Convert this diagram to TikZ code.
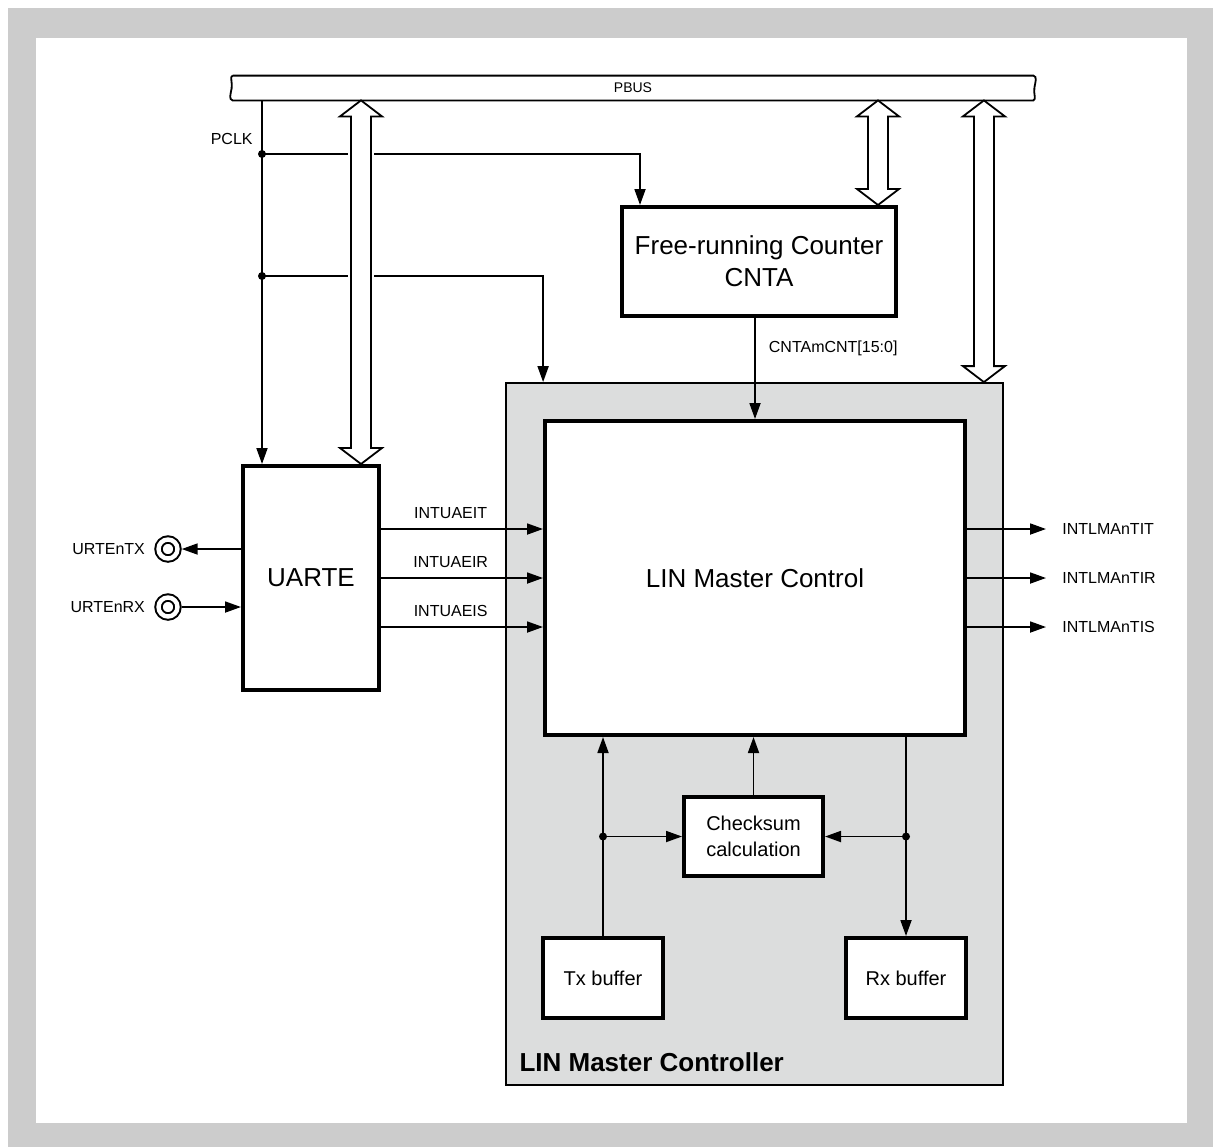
\documentclass[tikz,border=0pt]{standalone}
\usepackage{fontspec}
\setmainfont{Liberation Sans}
\usetikzlibrary{arrows.meta, positioning, calc}
\definecolor{framegray}{RGB}{204,204,204}
\definecolor{ctrlgray}{RGB}{220,221,221}
\newcommand{\sigfont}{\fontsize{8}{9.6}\selectfont}
\newcommand{\busfont}{\fontsize{7}{8.4}\selectfont}
\newcommand{\bigfont}{\fontsize{13}{16}\selectfont}
\newcommand{\midfont}{\fontsize{10}{13}\selectfont}
\newcommand{\titlefont}{\fontsize{13}{15}\selectfont\bfseries}
\tikzstyle{block} = [rectangle, draw=black, line width=2pt, fill=white, align=center, inner sep=0pt, font=\bigfont]
\tikzstyle{smallblock} = [block, font=\midfont]
\tikzstyle{ctrl} = [rectangle, draw=black, line width=0.9pt, fill=ctrlgray]
\tikzstyle{sig} = [inner sep=0pt, font=\sigfont]
\tikzstyle{pin} = [circle, draw=black, double, line width=1pt, double distance=2.2pt, minimum size=9.5pt, inner sep=0pt, outer sep=2.1pt]
\tikzstyle{sigarrow} = [line width=0.9pt, ->, >={Triangle[length=8pt,width=5.5pt]}]
\tikzstyle{busline} = [line width=0.9pt]
\tikzstyle{hollow} = [line width=0.9pt, fill=white]
% hollow double arrow between bus and a block
\newcommand{\busarrow}[2]{%
  \path (#1) coordinate (ba-t) (#2) coordinate (ba-b);
  \fill[white] ($(ba-t)+(-13,20)$) rectangle ($(ba-b)+(13,-20)$);
  \draw[hollow] (ba-t) -- ++(21,16) -- ++(-11,0) -- ($(ba-b)+(10,-16)$) -- ++(11,0) -- (ba-b)
    -- ++(-21,-16) -- ++(11,0) -- ($(ba-t)+(-10,16)$) -- ++(-11,0) -- cycle;
}
\begin{document}
\begin{tikzpicture}[x=0.5pt, y=-0.5pt]

            \useasboundingbox (0,0) rectangle (1213,1147);
            \fill[framegray] (8,8) rectangle (1213,1147);
            \fill[white] (36,38) rectangle (1187,1123);

            % Place nodes
            \node (lmc) [ctrl, minimum width=248.5pt, minimum height=351pt] at (754.5,734) {};
            \node (lmclbl) [anchor=base west, inner sep=0pt, font=\titlefont] at ($(lmc.south west)+(14,-14)$) {LIN Master Controller};
            \node (pbus) [inner sep=0pt, minimum width=400pt, minimum height=12pt, font=\busfont] at (633,88) {PBUS};
            \node (cnta) [block, minimum width=137pt, minimum height=54.5pt] at (759,261.5) {Free-running Counter\\CNTA};
            \node (lmcc) [block, minimum width=210pt, minimum height=157pt] at (755,578) {LIN Master Control};
            \node (uarte) [block, minimum width=68pt, minimum height=112pt] at (311,578) {UARTE};
            \node (chk) [smallblock, minimum width=69.5pt, minimum height=39.5pt] at (753.5,836.5) {Checksum\\calculation};
            \node (txbuf) [smallblock, minimum width=60pt, minimum height=40pt] at (603,978) {Tx buffer};
            \node (rxbuf) [smallblock, minimum width=60pt, minimum height=40pt, right=89.5pt of txbuf] {Rx buffer};
            \node (txpin) [pin] at (168,549) {};
            \node (rxpin) [pin] at (168,607) {};
            \node (txlbl) [sig, left=4.5pt of txpin] {URTEnTX};
            \node (rxlbl) [sig, left=4.5pt of rxpin] {URTEnRX};
            \coordinate (clk1) at (262,154);
            \coordinate (clk2) at (262,276);
            \node (pclk) [sig, anchor=east] at ($(clk1)+(-9,-15)$) {PCLK};

            % Bus outline
            \draw [busline] (pbus.north west) -- (pbus.north east)
                .. controls +(4,1) and +(1,-6) .. ++(1,12)
                .. controls +(-1,6) and +(3,-1) .. (pbus.south east)
                -- (pbus.south west)
                .. controls +(-4,-1) and +(-1,6) .. ++(-1,-12)
                .. controls +(1,-6) and +(-3,1) .. (pbus.north west);

            % Draw edges
            \draw [sigarrow] (pbus.south -| clk1) -- (uarte.north -| clk1);
            \draw [sigarrow] (clk1) -| ($(cnta.north west)+(20,0)$);
            \draw [sigarrow] (clk2) -| ($(lmc.north west)+(38,0)$);
            \fill (clk1) circle (2pt);
            \fill (clk2) circle (2pt);
            \draw [sigarrow] (cnta.south -| lmcc.north) -- node[sig, right=6.5pt, pos=0.3] {CNTAmCNT[15:0]} (lmcc.north);
            \draw [sigarrow] (uarte.west |- txpin) -- (txpin);
            \draw [sigarrow] (rxpin) -- (uarte.west |- rxpin);
            \foreach \dy/\txt in {-49/INTUAEIT, 0/INTUAEIR, 49/INTUAEIS} {
                \draw [sigarrow] ($(uarte.east)+(0,\dy)$) -- node[sig, above=4.5pt, pos=0.43] {\txt} ($(lmcc.west)+(0,\dy)$);
            }
            \foreach \dy/\name/\txt in {-49/tit/INTLMAnTIT, 0/tir/INTLMAnTIR, 49/tis/INTLMAnTIS} {
                \node (\name) [sig, inner xsep=8pt, anchor=west] at ($(lmcc.east)+(79,\dy)$) {\txt};
                \draw [sigarrow] (lmcc.east |- \name) -- (\name);
            }
            \draw [sigarrow] (chk) -- (lmcc.south -| chk);
            \draw [sigarrow] (txbuf) -- (lmcc.south -| txbuf);
            \draw [sigarrow] (txbuf |- chk) -- (chk);
            \draw [sigarrow] (lmcc.south -| rxbuf) -- (rxbuf);
            \draw [sigarrow] (rxbuf |- chk) -- (chk);
            \fill (txbuf |- chk) circle (2pt);
            \fill (rxbuf |- chk) circle (2pt);

            % Bus arrows
            \coordinate (ua) at ($(uarte.north east)+(-20,0)$);
            \coordinate (ca) at ($(cnta.north east)+(-20,0)$);
            \coordinate (la) at ($(lmc.north east)+(-20,0)$);
            \busarrow{pbus.south -| ua}{ua}
            \busarrow{pbus.south -| ca}{ca}
            \busarrow{pbus.south -| la}{la}
        \end{tikzpicture}
\end{document}
